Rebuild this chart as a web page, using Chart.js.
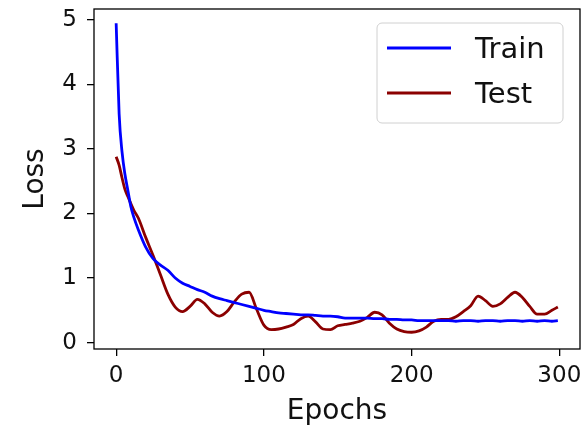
<!DOCTYPE html>
<html>
<head>
<meta charset="utf-8">
<script src="https://cdn.jsdelivr.net/npm/chart.js@4"></script>
<style>
  html, body { margin: 0; padding: 0; background: #fff; }
  canvas { display: block; }
</style>
</head>
<body>
<canvas id="lossChart" width="587" height="429"></canvas>
<script>
// epochs sampled from the figure
const epochs = [0, 2, 4, 6, 8, 10, 12, 15, 20, 25, 30, 35, 40, 45, 50, 55, 60, 65, 70, 75,
  80, 85, 90, 95, 100, 105, 110, 115, 120, 125, 130, 135, 140, 145, 150, 155, 160, 165, 170, 175,
  180, 185, 190, 195, 200, 205, 210, 215, 220, 225, 230, 235, 240, 245, 250, 255, 260, 265, 270, 275,
  280, 285, 290, 295, 299];

const trainLoss = [4.95, 3.55, 2.95, 2.6, 2.35, 2.1, 1.94, 1.75, 1.48, 1.3, 1.2, 1.12, 1.0, 0.92, 0.87, 0.82, 0.78, 0.72, 0.68, 0.65,
  0.62, 0.59, 0.56, 0.53, 0.5, 0.48, 0.46, 0.45, 0.44, 0.43, 0.43, 0.42, 0.41, 0.41, 0.40, 0.38, 0.38, 0.38, 0.38, 0.37,
  0.37, 0.36, 0.36, 0.35, 0.35, 0.34, 0.34, 0.34, 0.34, 0.34, 0.33, 0.34, 0.34, 0.33, 0.34, 0.34, 0.33, 0.34, 0.34, 0.33,
  0.34, 0.33, 0.34, 0.33, 0.34];

const testLoss = [2.88, 2.75, 2.55, 2.37, 2.26, 2.15, 2.05, 1.93, 1.63, 1.35, 1.05, 0.75, 0.55, 0.48, 0.56, 0.67, 0.6, 0.47, 0.41, 0.48,
  0.63, 0.75, 0.78, 0.52, 0.27, 0.2, 0.21, 0.24, 0.28, 0.37, 0.41, 0.32, 0.21, 0.2, 0.26, 0.28, 0.3, 0.33, 0.39, 0.47,
  0.43, 0.3, 0.21, 0.17, 0.16, 0.18, 0.24, 0.33, 0.36, 0.36, 0.4, 0.48, 0.57, 0.72, 0.65, 0.56, 0.6, 0.7, 0.78, 0.7,
  0.56, 0.44, 0.44, 0.5, 0.55];

const xTicks = [0, 100, 200, 300];
const yTicks = [0, 1, 2, 3, 4, 5];

const FONT = 'DejaVu Sans';

// frame around the plot area and a matplotlib-like legend
const framePlugin = {
    id: 'frame',
    afterDraw(chart) {
        const { ctx, chartArea: ca } = chart;
        ctx.save();
        ctx.strokeStyle = '#000';
        ctx.lineWidth = 1.3;
        ctx.strokeRect(ca.left, ca.top, ca.right - ca.left, ca.bottom - ca.top);

        // legend box
        const w = 186, h = 100;
        const x = ca.right - 17 - w, y = ca.top + 14;
        ctx.beginPath();
        ctx.roundRect(x, y, w, h, 5);
        ctx.fillStyle = 'rgba(255,255,255,0.8)';
        ctx.fill();
        ctx.strokeStyle = '#d0d0d0';
        ctx.lineWidth = 1;
        ctx.stroke();

        ctx.font = '29px "' + FONT + '"';
        ctx.textBaseline = 'alphabetic';
        ctx.textAlign = 'left';
        chart.data.datasets.forEach((ds, i) => {
            const ly = y + 25 + i * 45;
            ctx.strokeStyle = ds.borderColor;
            ctx.lineWidth = 2.8;
            ctx.beginPath();
            ctx.moveTo(x + 10, ly);
            ctx.lineTo(x + 74, ly);
            ctx.stroke();
            ctx.fillStyle = '#111';
            ctx.fillText(ds.label, x + 98, ly + 10);
        });
        ctx.restore();
    }
};

const ctx = document.getElementById('lossChart').getContext('2d');
new Chart(ctx, {
    type: 'line',
    data: {
        datasets: [{
            label: 'Train',
            data: epochs.map((e, i) => ({ x: e, y: trainLoss[i] })),
            borderColor: '#0000ff',
            borderWidth: 2.8,
            pointRadius: 0,
            cubicInterpolationMode: 'monotone'
        }, {
            label: 'Test',
            data: epochs.map((e, i) => ({ x: e, y: testLoss[i] })),
            borderColor: '#8b0000',
            borderWidth: 2.8,
            pointRadius: 0,
            cubicInterpolationMode: 'monotone'
        }]
    },
    options: {
        responsive: false,
        animation: false,
        layout: { padding: { top: 9, right: 7, left: 0, bottom: 0 } },
        plugins: {
            legend: { display: false },
            tooltip: { enabled: false }
        },
        scales: {
            x: {
                type: 'linear',
                min: -15,
                max: 314,
                afterBuildTicks: (s) => { s.ticks = xTicks.map(v => ({ value: v })); },
                afterFit: (s) => { s.height = 80; s.paddingLeft = 0; s.paddingRight = 0; },
                border: { display: false },
                grid: { drawOnChartArea: false, drawTicks: true, tickLength: 7, color: '#000', lineWidth: 1.3 },
                ticks: { color: '#111', font: { family: FONT, size: 23 }, padding: 6, maxRotation: 0 },
                title: { display: true, text: 'Epochs', color: '#111', font: { family: FONT, size: 28 }, padding: { top: 0, bottom: 0 } }
            },
            y: {
                min: -0.1,
                max: 5.17,
                afterBuildTicks: (s) => { s.ticks = yTicks.map(v => ({ value: v })); },
                afterFit: (s) => { s.width = 94; s.paddingTop = 0; s.paddingBottom = 0; },
                border: { display: false },
                grid: { drawOnChartArea: false, drawTicks: true, tickLength: 7, color: '#000', lineWidth: 1.3 },
                ticks: { color: '#111', font: { family: FONT, size: 23 }, padding: 10 },
                title: { display: true, text: 'Loss', color: '#111', font: { family: FONT, size: 28 }, padding: { top: 19, bottom: 0 } }
            }
        }
    },
    plugins: [framePlugin]
});
</script>
</body>
</html>
